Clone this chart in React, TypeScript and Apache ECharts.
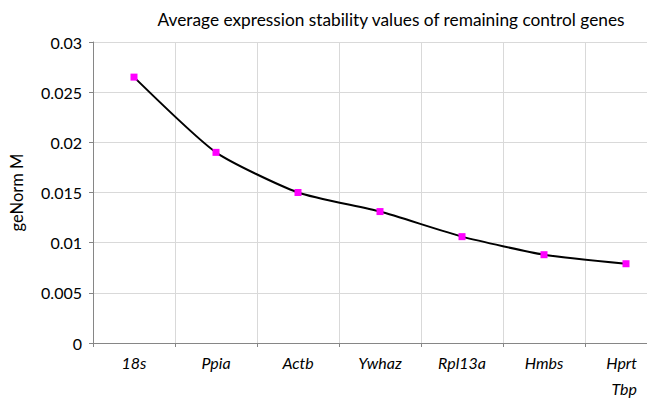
import React, { useEffect, useRef } from "react";
import * as echarts from "echarts";

const categories = ["18s", "Ppia", "Actb", "Ywhaz", "Rpl13a", "Hmbs", "Hprt\nTbp"];
const mValues = [0.0265, 0.019, 0.015, 0.0131, 0.0106, 0.0088, 0.0079];
const yTicks = { min: 0, max: 0.03, interval: 0.005 };
const titleText = "Average expression stability values of remaining control genes";
const yName = "geNorm M";

export default function App() {
  const ref = useRef<HTMLDivElement>(null);
  useEffect(() => {
    if (!ref.current) return;
    const chart = echarts.init(ref.current, undefined, { renderer: "svg" });
    const font = "Lato, 'Open Sans', sans-serif";
    chart.setOption({
      animation: false,
      backgroundColor: "#ffffff",
      title: {
        text: titleText,
        left: 386,
        top: 6,
        textAlign: "center",
        textStyle: { fontFamily: font, fontSize: 17.3, fontWeight: "normal", color: "#000" },
      },
      grid: { left: 93, width: 574, top: 42, height: 301, outerBoundsMode: "none", containLabel: false },
      xAxis: {
        type: "category",
        data: categories.map((c, i) =>
          i === categories.length - 1
            ? { value: c, textStyle: { align: "right", padding: [0, -11, 0, 0] } }
            : c
        ),
        boundaryGap: true,
        axisLine: { show: true, lineStyle: { color: "#868686", width: 1 } },
        axisTick: { show: true, alignWithLabel: false, length: 4, lineStyle: { color: "#868686" } },
        splitLine: { show: true, lineStyle: { color: "#d9d9d9", width: 1 } },
        axisLabel: {
          interval: 0,
          margin: 6,
          fontFamily: font,
          fontSize: 16,
          fontStyle: "italic",
          color: "#000",
          lineHeight: 26,
        },
      },
      yAxis: {
        type: "value",
        min: yTicks.min,
        max: yTicks.max,
        interval: yTicks.interval,
        name: yName,
        nameLocation: "middle",
        nameRotate: 90,
        nameGap: 68,
        nameTextStyle: { fontFamily: font, fontSize: 16.5, color: "#000" },
        axisLine: { show: true, lineStyle: { color: "#868686", width: 1 } },
        axisTick: { show: true, length: 4, lineStyle: { color: "#868686" } },
        splitLine: { show: true, lineStyle: { color: "#d9d9d9", width: 1 } },
        axisLabel: {
          margin: 11,
          fontFamily: font,
          fontSize: 16,
          color: "#000",
          formatter: (v: number) => String(Number(v.toFixed(3))),
        },
      },
      series: [
        {
          type: "line",
          data: mValues,
          smooth: 0.2,
          symbol: "rect",
          symbolSize: 7,
          lineStyle: { color: "#000", width: 2 },
          itemStyle: { color: "#ff00ff", borderWidth: 0 },
          z: 3,
        },
      ],
    });
    return () => chart.dispose();
  }, []);
  return <div ref={ref} style={{ width: 647, height: 401, position: "absolute", left: 0, top: 0 }} />;
}
